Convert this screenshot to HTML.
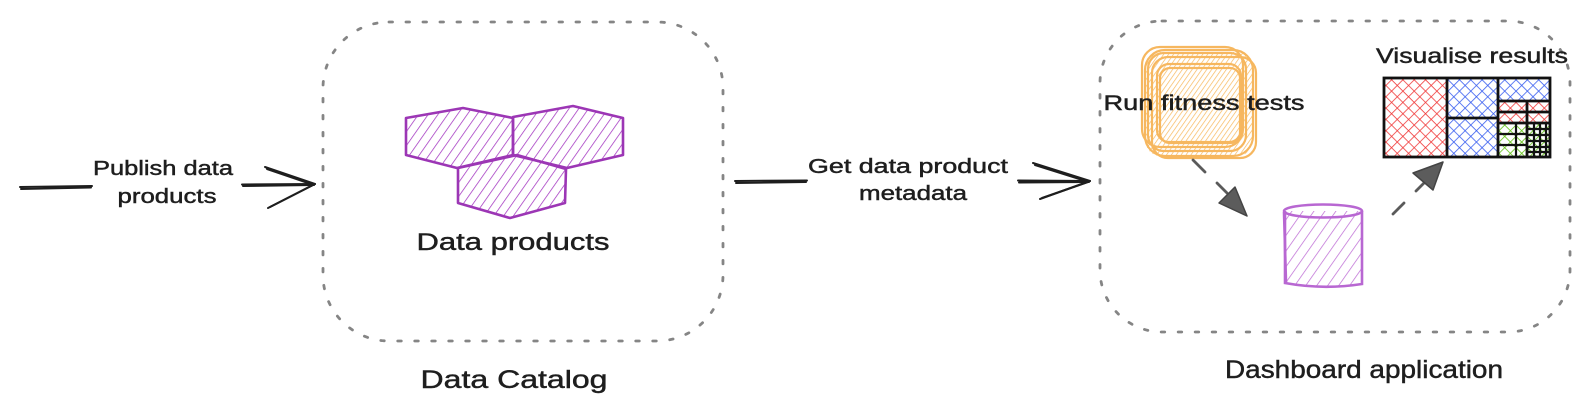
<!DOCTYPE html>
<html>
<head>
<meta charset="utf-8">
<style>
  html, body { margin:0; padding:0; background:#ffffff; }
  body { width:1593px; height:418px; overflow:hidden; }
  svg { display:block; }
  text { font-family: "Liberation Sans", "DejaVu Sans", sans-serif; fill:#1e1e1e; stroke:#1e1e1e; stroke-width:0.45; }
</style>
</head>
<body>
<svg width="1593" height="418" viewBox="0 0 1593 418" xmlns="http://www.w3.org/2000/svg">
  <defs>
    <pattern id="hPurple" patternUnits="userSpaceOnUse" width="8" height="12" patternTransform="rotate(35)">
      <line x1="0" y1="0" x2="0" y2="12" stroke="#a233c0" stroke-width="1.5"/>
    </pattern>
    <pattern id="hViolet" patternUnits="userSpaceOnUse" width="9" height="12" patternTransform="rotate(35)">
      <line x1="0" y1="0" x2="0" y2="12" stroke="#bf6fd6" stroke-width="1.5"/>
    </pattern>
    <pattern id="hOrange" patternUnits="userSpaceOnUse" width="4" height="10" patternTransform="rotate(35)">
      <line x1="0" y1="0" x2="0" y2="10" stroke="#f7b04a" stroke-width="1.4"/>
    </pattern>
    <pattern id="xRed" patternUnits="userSpaceOnUse" width="8" height="8" patternTransform="rotate(45)">
      <line x1="0" y1="0" x2="8" y2="0" stroke="#f03a3a" stroke-width="1.6"/>
      <line x1="0" y1="0" x2="0" y2="8" stroke="#f03a3a" stroke-width="1.6"/>
    </pattern>
    <pattern id="xBlue" patternUnits="userSpaceOnUse" width="8" height="8" patternTransform="rotate(45)">
      <line x1="0" y1="0" x2="8" y2="0" stroke="#3a5ff0" stroke-width="1.6"/>
      <line x1="0" y1="0" x2="0" y2="8" stroke="#3a5ff0" stroke-width="1.6"/>
    </pattern>
    <pattern id="xGreen" patternUnits="userSpaceOnUse" width="8" height="8" patternTransform="rotate(45)">
      <line x1="0" y1="0" x2="8" y2="0" stroke="#5fbf12" stroke-width="1.6"/>
      <line x1="0" y1="0" x2="0" y2="8" stroke="#5fbf12" stroke-width="1.6"/>
    </pattern>
  </defs>

  <rect x="0" y="0" width="1593" height="418" fill="#ffffff"/>

  <!-- Dashed containers -->
  <rect x="323" y="22" width="400" height="319" rx="66" ry="66" fill="none" stroke="#858585" stroke-width="2.8" stroke-dasharray="3.5 13.5" stroke-linecap="round"/>
  <rect x="1100" y="21" width="470" height="311" rx="62" ry="62" fill="none" stroke="#858585" stroke-width="2.8" stroke-dasharray="3.5 13.5" stroke-linecap="round"/>

  <!-- Left arrow -->
  <g stroke="#1e1e1e" stroke-width="2" fill="none" stroke-linecap="round">
    <line x1="20" y1="187" x2="92" y2="186"/>
    <line x1="21" y1="189" x2="91" y2="187.5"/>
    <line x1="242" y1="184.5" x2="315" y2="184"/>
    <line x1="243" y1="186" x2="313" y2="185"/>
    <line x1="265" y1="167" x2="315" y2="184"/>
    <line x1="267" y1="169" x2="314" y2="185"/>
    <line x1="268" y1="208" x2="315" y2="184"/>
    <line x1="270" y1="207" x2="313" y2="185"/>
  </g>
  <text x="163" y="175" font-size="20" text-anchor="middle" textLength="140" lengthAdjust="spacingAndGlyphs">Publish data</text>
  <text x="167" y="203" font-size="20" text-anchor="middle" textLength="99" lengthAdjust="spacingAndGlyphs">products</text>

  <!-- Hexagons -->
  <g stroke="#9c36b5" stroke-width="2.6" stroke-linejoin="round">
    <polygon points="406,118 463,108 513,118 513,155 457,168 406,155" fill="url(#hPurple)"/>
    <polygon points="513,117 573,106 623,118 623,155 567,168 513,155" fill="url(#hPurple)"/>
    <polygon points="458,168 517,155 566,169 565,203 510,218 458,203" fill="url(#hPurple)"/>
  </g>
  <text x="513" y="250" font-size="24" text-anchor="middle" textLength="193" lengthAdjust="spacingAndGlyphs">Data products</text>
  <text x="514" y="388" font-size="25" text-anchor="middle" textLength="187" lengthAdjust="spacingAndGlyphs">Data Catalog</text>

  <!-- Middle arrow -->
  <g stroke="#1e1e1e" stroke-width="2" fill="none" stroke-linecap="round">
    <line x1="735" y1="181" x2="807" y2="180.5"/>
    <line x1="736" y1="183" x2="806" y2="182"/>
    <line x1="1018" y1="180.5" x2="1090" y2="181"/>
    <line x1="1019" y1="182.5" x2="1088" y2="182"/>
    <line x1="1033" y1="163" x2="1090" y2="181"/>
    <line x1="1035" y1="165" x2="1089" y2="182"/>
    <line x1="1040" y1="199" x2="1090" y2="181"/>
    <line x1="1042" y1="198" x2="1088" y2="182"/>
  </g>
  <text x="908" y="173" font-size="20" text-anchor="middle" textLength="200" lengthAdjust="spacingAndGlyphs">Get data product</text>
  <text x="913" y="200" font-size="20" text-anchor="middle" textLength="108" lengthAdjust="spacingAndGlyphs">metadata</text>

  <!-- Orange rough square -->
  <g opacity="0.9">
    <rect x="1146" y="52" width="106" height="104" rx="14" fill="url(#hOrange)"/>
    <g fill="none" stroke="#f6b04e" stroke-width="2.2">
      <rect x="1142" y="47" width="101" height="100" rx="18"/>
      <rect x="1152" y="57" width="104" height="101" rx="16"/>
      <rect x="1157" y="64" width="84" height="78" rx="12"/>
      <rect x="1145" y="50" width="108" height="106" rx="20"/>
      <rect x="1160" y="68" width="80" height="75" rx="10"/>
      <rect x="1148" y="53" width="98" height="98" rx="16"/>
    </g>
  </g>
  <text x="1204" y="110" font-size="21" text-anchor="middle" textLength="201" lengthAdjust="spacingAndGlyphs">Run fitness tests</text>

  <!-- Dashed arrow 1 -->
  <g stroke="#5a5a5a" stroke-width="2.8" stroke-linecap="round">
    <line x1="1193" y1="160" x2="1205" y2="172"/>
    <line x1="1217" y1="183" x2="1227" y2="193"/>
  </g>
  <polygon points="1219,203 1235,187 1247,216" fill="#5c5c5c" stroke="#444" stroke-width="1.5" stroke-linejoin="round"/>

  <!-- Cylinder -->
  <g stroke="#b867d2" stroke-width="2.6" fill="none">
    <path d="M1285,211 L1285,283 Q1323,290 1362,284 L1362,211 Z" fill="url(#hViolet)" stroke="none"/>
    <ellipse cx="1323" cy="211" rx="39" ry="6.5"/>
    <path d="M1285,211 L1285,283 Q1323,290 1362,284 L1362,211"/>
    <path d="M1284,212 L1286,282"/>
  </g>

  <!-- Dashed arrow 2 -->
  <g stroke="#5a5a5a" stroke-width="2.8" stroke-linecap="round">
    <line x1="1393" y1="214" x2="1404" y2="203"/>
    <line x1="1416" y1="191" x2="1424" y2="183"/>
  </g>
  <polygon points="1413,173 1433,190 1443,162" fill="#5c5c5c" stroke="#444" stroke-width="1.5" stroke-linejoin="round"/>

  <!-- Treemap -->
  <text x="1472" y="63" font-size="21" text-anchor="middle" textLength="192" lengthAdjust="spacingAndGlyphs">Visualise results</text>
  <g>
    <rect x="1384" y="78" width="63" height="79" fill="url(#xRed)"/>
    <rect x="1447" y="78" width="51" height="40" fill="url(#xBlue)"/>
    <rect x="1447" y="118" width="51" height="39" fill="url(#xBlue)"/>
    <rect x="1498" y="78" width="52" height="23" fill="url(#xBlue)"/>
    <rect x="1498" y="101" width="52" height="22" fill="url(#xRed)"/>
    <rect x="1498" y="123" width="52" height="34" fill="url(#xGreen)"/>
  </g>
  <g stroke="#111" fill="none" stroke-width="2.8">
    <rect x="1384" y="78" width="166" height="79"/>
    <line x1="1447" y1="78" x2="1447" y2="157"/>
    <line x1="1498" y1="78" x2="1498" y2="157"/>
    <line x1="1447" y1="118" x2="1498" y2="118"/>
    <line x1="1498" y1="101" x2="1550" y2="101"/>
    <line x1="1498" y1="112" x2="1550" y2="112"/>
    <line x1="1498" y1="123" x2="1550" y2="123"/>
    <line x1="1527" y1="101" x2="1527" y2="157"/>
  </g>
  <g stroke="#111" fill="none" stroke-width="2.2">
    <line x1="1516" y1="123" x2="1516" y2="157"/>
    <line x1="1498" y1="134" x2="1527" y2="134"/>
    <line x1="1498" y1="145" x2="1527" y2="145"/>
    <line x1="1534" y1="123" x2="1534" y2="157"/>
    <line x1="1540" y1="123" x2="1540" y2="157"/>
    <line x1="1546" y1="123" x2="1546" y2="157"/>
    <line x1="1527" y1="129" x2="1550" y2="129"/>
    <line x1="1527" y1="135" x2="1550" y2="135"/>
    <line x1="1527" y1="141" x2="1550" y2="141"/>
    <line x1="1527" y1="147" x2="1550" y2="147"/>
    <line x1="1527" y1="152" x2="1550" y2="152"/>
  </g>

  <text x="1364" y="378" font-size="25" text-anchor="middle" textLength="278" lengthAdjust="spacingAndGlyphs">Dashboard application</text>
</svg>
</body>
</html>
